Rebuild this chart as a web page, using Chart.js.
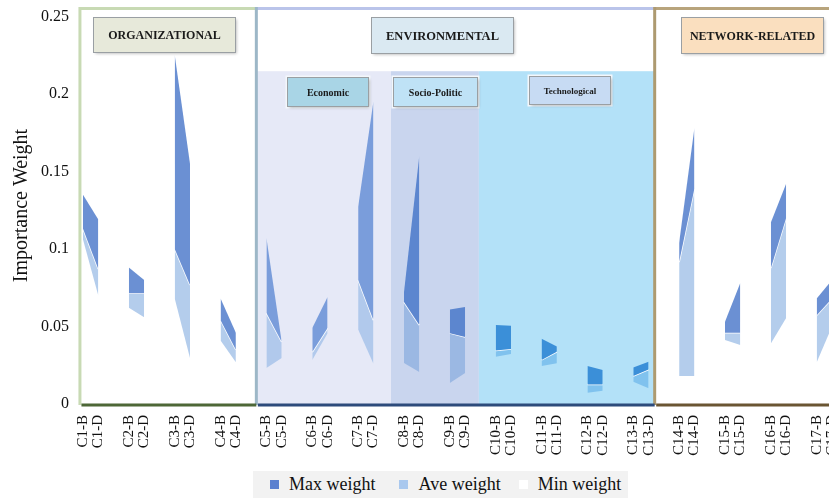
<!DOCTYPE html>
<html>
<head>
	<meta charset="utf-8">
	<title>Importance Weight</title>
	<script src="https://cdn.jsdelivr.net/npm/chart.js@4.4.0/dist/chart.umd.min.js"></script>
	<style>
		html, body { margin: 0; padding: 0; overflow: hidden; background: #fff; }
		#wrap { position: relative; width: 880px; height: 498px; }
		#legend {
			position: absolute; left: 253px; top: 471px; width: 375px; height: 27px;
			background: #f2f2f2; display: flex; align-items: center;
			font-family: 'Liberation Serif', 'Times New Roman', serif; font-size: 18px; color: #111;
		}
		#legend span.box { display: inline-block; width: 9px; height: 9px; margin-right: 10px; }
		#legend .item { display: flex; align-items: center; }
	</style>
</head>
<body>
<div id="wrap">
	<canvas id="chart" width="880" height="498"></canvas>
	<div id="legend"></div>
</div>
<script>
	const criteria = ['C1', 'C2', 'C3', 'C4', 'C5', 'C6', 'C7', 'C8', 'C9', 'C10', 'C11', 'C12', 'C13', 'C14', 'C15', 'C16', 'C17'];
	const sectionOf = ['org', 'org', 'org', 'org', 'econ', 'econ', 'econ', 'socio', 'socio', 'tech', 'tech', 'tech', 'tech', 'net', 'net', 'net', 'net'];

	// values at the "-B" and "-D" point of each criterion
	const maxB = [0.135, 0.088, 0.225, 0.068, 0.107, 0.049, 0.127, 0.072, 0.061, 0.051, 0.042, 0.0245, 0.0236, 0.104, 0.053, 0.117, 0.068];
	const maxD = [0.119, 0.080, 0.155, 0.046, 0.040, 0.069, 0.195, 0.160, 0.0625, 0.0505, 0.037, 0.022, 0.0273, 0.178, 0.078, 0.142, 0.080];
	const aveB = [0.113, 0.0714, 0.100, 0.054, 0.0586, 0.0335, 0.080, 0.0657, 0.0457, 0.0345, 0.0284, 0.0126, 0.018, 0.0915, 0.0459, 0.0876, 0.0573];
	const aveD = [0.087, 0.0714, 0.0767, 0.035, 0.040, 0.049, 0.054, 0.0509, 0.0432, 0.0354, 0.0337, 0.0126, 0.0222, 0.139, 0.0459, 0.120, 0.068];
	const minB = [0.106, 0.062, 0.068, 0.041, 0.0232, 0.0284, 0.048, 0.0264, 0.0135, 0.0305, 0.0245, 0.0073, 0.0144, 0.018, 0.0412, 0.039, 0.027];
	const minD = [0.070, 0.056, 0.0296, 0.027, 0.0296, 0.0457, 0.026, 0.0206, 0.020, 0.0322, 0.0262, 0.0086, 0.0101, 0.018, 0.038, 0.0554, 0.050];

	const yTicks = [0, 0.05, 0.1, 0.15, 0.2, 0.25];

	const serif = "'Liberation Serif', 'Times New Roman', serif";

	// colours of the polygons inside each shaded section
	const palette = {
		org:   { max: '#6b90d3', ave: '#b4cdec' },
		net:   { max: '#6b90d3', ave: '#b4cdec' },
		econ:  { max: '#7a9ddb', ave: '#b1c9ec' },
		socio: { max: '#5c86cf', ave: '#9bb8e3' },
		tech:  { max: '#3b8fd8', ave: '#80c2ee' }
	};

	// section frames, in category-index units on x
	const frames = [
		{ from: -0.2, to: 11.34, edge: '#c8dab4', top: '#c8dab4', base: '#4d6737' },
		{ from: 11.34, to: 37.4, edge: '#9db7c7', top: '#bac4ea', base: '#2d4b7b' },
		{ from: 37.4, to: 56, edge: '#ad9a70', top: '#b8a47c', base: '#6a5532' }
	];
	const bands = [
		{ from: 11.34, to: 20.15, fill: '#e6e9f7' },
		{ from: 20.15, to: 25.9, fill: '#c9d5ee' },
		{ from: 25.9, to: 37.4, fill: '#b3e1f8' }
	];
	const bandTop = 0.2146;
	const tags = [
		{ text: 'ORGANIZATIONAL', x0: 0.65, x1: 9.94, y0: 0.2494, y1: 0.2268, fill: '#e7e9da', size: 12 },
		{ text: 'ENVIRONMENTAL', x0: 18.84, x1: 28.12, y0: 0.2494, y1: 0.2262, fill: '#dae9f2', size: 12.5 },
		{ text: 'NETWORK-RELATED', x0: 39.11, x1: 48.4, y0: 0.2494, y1: 0.2262, fill: '#fadfbf', size: 12 },
		{ text: 'Economic', x0: 13.34, x1: 18.64, y0: 0.2107, y1: 0.192, fill: '#a9d5e6', size: 10, sub: true },
		{ text: 'Socio-Politic', x0: 20.27, x1: 25.77, y0: 0.2107, y1: 0.192, fill: '#bfe2f6', size: 10, sub: true },
		{ text: 'Technological', x0: 29.17, x1: 34.47, y0: 0.2113, y1: 0.1933, fill: '#c7dbf3', size: 9, sub: true }
	];

	// build B, D and an empty slot for every criterion
	let labels = [], maxData = [], aveData = [], minData = [];
	criteria.forEach((c, i) => {
		labels.push(c + '-B', c + '-D');
		maxData.push(maxB[i], maxD[i]);
		aveData.push(aveB[i], aveD[i]);
		minData.push(minB[i], minD[i]);
		if (i < criteria.length - 1) {
			labels.push('');
			maxData.push(null); aveData.push(null); minData.push(null);
		}
	});

	function sectionColor(idx, key) {
		return palette[sectionOf[Math.floor(idx / 3)]][key];
	}

	function drawTag(chart, t) {
		const ctx = chart.ctx, x = chart.scales.x, y = chart.scales.y;
		const x0 = Math.round(x.getPixelForValue(t.x0)) + 0.5, x1 = Math.round(x.getPixelForValue(t.x1)) + 0.5;
		const y0 = Math.round(y.getPixelForValue(t.y0)) + 0.5, y1 = Math.round(y.getPixelForValue(t.y1)) + 0.5;
		ctx.save();
		if (t.sub) {
			ctx.fillStyle = '#f4f8fc';
			ctx.fillRect(x0 - 2, y0 - 2, x1 - x0 + 4, y1 - y0 + 4);
		}
		ctx.shadowColor = 'rgba(0,0,0,0.3)';
		ctx.shadowBlur = 3;
		ctx.shadowOffsetX = 1;
		ctx.shadowOffsetY = 1;
		ctx.fillStyle = t.fill;
		ctx.fillRect(x0, y0, x1 - x0, y1 - y0);
		ctx.restore();
		ctx.save();
		ctx.strokeStyle = '#9a9fa3';
		ctx.lineWidth = 1;
		ctx.strokeRect(x0, y0, x1 - x0, y1 - y0);
		ctx.font = `bold ${t.size}px ${serif}`;
		ctx.fillStyle = '#1a1a1a';
		ctx.textAlign = 'center';
		ctx.textBaseline = 'middle';
		ctx.fillText(t.text, (x0 + x1) / 2, (y0 + y1) / 2 + 1);
		ctx.restore();
	}

	const sectionsPlugin = {
		id: 'sections',
		beforeDatasetsDraw(chart) {
			const { ctx, scales: { x, y } } = chart;
			ctx.save();
			bands.forEach(b => {
				const x0 = x.getPixelForValue(b.from), x1 = x.getPixelForValue(b.to);
				const y0 = y.getPixelForValue(bandTop), y1 = y.getPixelForValue(0);
				ctx.fillStyle = b.fill;
				ctx.fillRect(x0, y0, x1 - x0, y1 - y0);
			});
			ctx.restore();
		},
		afterDatasetsDraw(chart) {
			const { ctx, scales: { x, y } } = chart;
			const yT = chart.chartArea.top + 1.5, yB = y.getPixelForValue(0);
			ctx.save();
			ctx.lineWidth = 3;
			frames.forEach(f => {
				const x0 = x.getPixelForValue(f.from), x1 = x.getPixelForValue(f.to);
				ctx.strokeStyle = f.top;
				ctx.beginPath(); ctx.moveTo(x0, yT); ctx.lineTo(x1, yT); ctx.stroke();
				ctx.strokeStyle = f.edge;
				ctx.beginPath(); ctx.moveTo(x0, yB + 1); ctx.lineTo(x0, yT - 1.5); ctx.stroke();
			});
			frames.forEach(f => {
				const x0 = x.getPixelForValue(f.from), x1 = x.getPixelForValue(f.to);
				ctx.strokeStyle = f.base;
				ctx.beginPath(); ctx.moveTo(x0 + 1.5, yB + 1); ctx.lineTo(x1, yB + 1); ctx.stroke();
			});
			ctx.restore();
			tags.forEach(t => drawTag(chart, t));
		}
	};

	const chart = new Chart(document.getElementById('chart'), {
		type: 'line',
		data: {
			labels: labels,
			datasets: [
				{
					label: 'Max weight',
					data: maxData,
					backgroundColor: '#5b80cf',
					borderColor: 'transparent',
					borderWidth: 0,
					fill: '+1',
					segment: { backgroundColor: c => sectionColor(c.p0DataIndex, 'max') }
				},
				{
					label: 'Ave weight',
					data: aveData,
					backgroundColor: '#a9c8ee',
					borderColor: '#ffffff',
					borderWidth: 1.5,
					fill: '+1',
					segment: { backgroundColor: c => sectionColor(c.p0DataIndex, 'ave') }
				},
				{
					label: 'Min weight',
					data: minData,
					backgroundColor: '#ffffff',
					borderColor: 'transparent',
					borderWidth: 0,
					fill: false
				}
			]
		},
		options: {
			responsive: false,
			animation: false,
			devicePixelRatio: 1,
			spanGaps: false,
			elements: { point: { radius: 0, hoverRadius: 0 }, line: { tension: 0 } },
			layout: { padding: { left: 0, right: 48, top: 7, bottom: 42 } },
			plugins: {
				legend: { display: false },
				tooltip: { enabled: false }
			},
			scales: {
				x: {
					grid: { display: false, drawTicks: false },
					border: { display: false },
					ticks: {
						autoSkip: false, maxRotation: 90, minRotation: 90, padding: 11,
						color: '#111', font: { family: serif, size: 15 }
					},
					afterFit: s => { s.height = 52; s.paddingLeft = 0; s.paddingRight = 0; }
				},
				y: {
					min: 0, max: 0.256,
					grid: { display: false, drawTicks: false },
					border: { display: false },
					afterBuildTicks: s => { s.ticks = yTicks.map(v => ({ value: v })); },
					afterFit: s => { s.width = 83; s.paddingTop = 0; s.paddingBottom = 0; },
					ticks: {
						padding: 14, color: '#111', font: { family: serif, size: 16 },
						callback: v => String(+v.toFixed(2))
					},
					title: {
						display: true, text: 'Importance Weight', color: '#111',
						font: { family: serif, size: 20 }, padding: { top: 10, bottom: 0 }
					}
				}
			}
		},
		plugins: [sectionsPlugin]
	});

	// legend under the chart
	const legend = document.getElementById('legend');
	const gaps = [17, 24, 18];
	chart.data.datasets.forEach((ds, i) => {
		const item = document.createElement('div');
		item.className = 'item';
		item.style.marginLeft = gaps[i] + 'px';
		item.innerHTML = `<span class="box" style="background:${ds.backgroundColor}"></span>${ds.label}`;
		legend.appendChild(item);
	});
</script>
</body>
</html>
